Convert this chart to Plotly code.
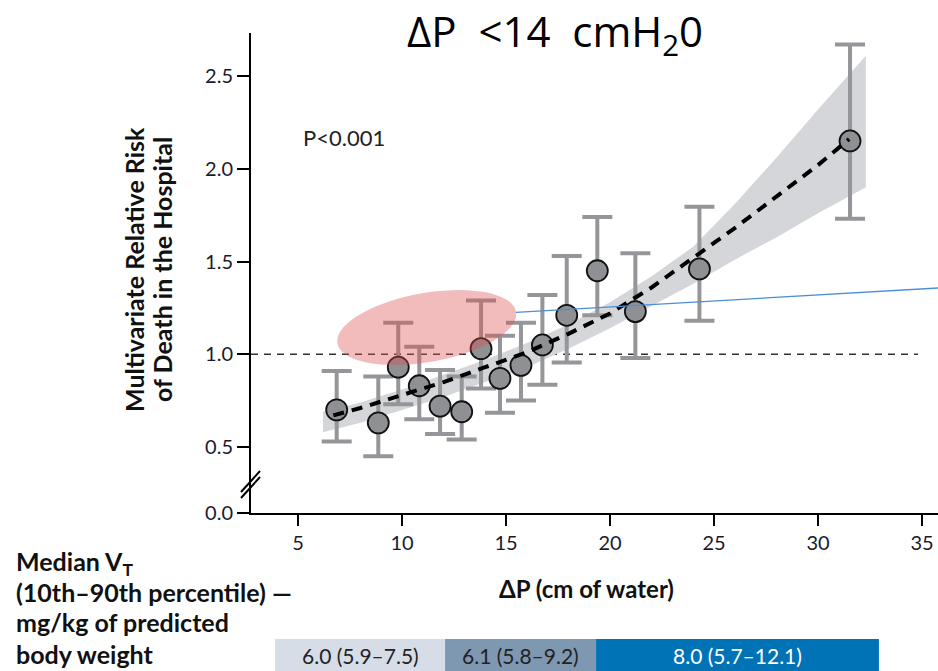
import math
import plotly.graph_objects as go

# ---------------- data ----------------
dp = [6.86, 8.86, 9.82, 10.83, 11.83, 12.87, 13.80, 14.71, 15.72, 16.75, 17.92, 19.39, 21.22, 24.30, 31.54]
rr = [0.70, 0.63, 0.93, 0.83, 0.72, 0.69, 1.03, 0.87, 0.94, 1.05, 1.21, 1.45, 1.23, 1.46, 2.15]
rr_hi = [0.91, 0.88, 1.17, 1.04, 0.915, 0.88, 1.29, 1.10, 1.17, 1.32, 1.53, 1.74, 1.545, 1.795, 2.67]
rr_lo = [0.53, 0.45, 0.73, 0.65, 0.57, 0.54, 0.815, 0.685, 0.75, 0.835, 0.955, 1.21, 0.98, 1.18, 1.73]

trend_x = [6.7, 8, 10, 12, 14, 16, 18, 20, 22, 24, 26, 28, 30, 31.5]
trend_y = [0.67, 0.71, 0.78, 0.85, 0.93, 1.01, 1.11, 1.22, 1.36, 1.52, 1.68, 1.85, 2.02, 2.16]

band_x = [6.2, 8, 10, 12, 14, 16, 18, 20, 22, 24, 26, 28, 30, 32.3]
band_lo = [0.58, 0.63, 0.70, 0.77, 0.85, 0.93, 1.03, 1.14, 1.26, 1.38, 1.51, 1.63, 1.76, 1.90]
band_hi = [0.69, 0.74, 0.81, 0.89, 0.97, 1.06, 1.16, 1.28, 1.42, 1.58, 1.81, 2.06, 2.32, 2.61]

blue_x = [15.48, 35.77]
blue_y = [1.226, 1.357]

ref_y = 1.0

x_ticks = [5, 10, 15, 20, 25, 30, 35]
y_tickvals = [0.144, 0.5, 1.0, 1.5, 2.0, 2.5]
y_ticktext = ["0.0", "0.5", "1.0", "1.5", "2.0", "2.5"]

vt_edges = [3.9, 12.07, 19.33, 32.93]
vt_labels = ["6.0 (5.9–7.5)", "6.1 (5.8–9.2)", "8.0 (5.7–12.1)"]
vt_colors = ["#d6dde6", "#7f98b2", "#0072b6"]
vt_text_colors = ["#222222", "#222222", "#ffffff"]

X_RANGE = [2.74, 35.77]
Y_RANGE = [0.144, 2.732]

# ---------------- layout geometry ----------------
W, H = 938, 671
ML, MR, MT, MB = 251, 0, 33, 158
PW = W - ML - MR
PH = H - MT - MB


def px_x(p):
    return (p - ML) / PW


def px_y(p):
    return (H - MB - p) / PH


def data_to_paper_x(v):
    return (v - X_RANGE[0]) / (X_RANGE[1] - X_RANGE[0])


fig = go.Figure()

# confidence band
fig.add_trace(go.Scatter(
    x=band_x + band_x[::-1], y=band_hi + band_lo[::-1],
    fill="toself", fillcolor="#d5d6d9", line=dict(width=0),
    mode="lines", hoverinfo="skip", showlegend=False))

# points with error bars
fig.add_trace(go.Scatter(
    x=dp, y=rr, mode="markers",
    error_y=dict(type="data", symmetric=False,
                 array=[h - v for h, v in zip(rr_hi, rr)],
                 arrayminus=[v - l for v, l in zip(rr, rr_lo)],
                 color="#949699", thickness=4, width=15),
    marker=dict(size=21, color="#8e9094", line=dict(color="#111111", width=1.8)),
    showlegend=False))

# trend line
fig.add_trace(go.Scatter(
    x=trend_x, y=trend_y, mode="lines",
    line=dict(color="#000000", width=4, dash="11px,8px"),
    showlegend=False))

# blue line
fig.add_trace(go.Scatter(
    x=blue_x, y=blue_y, mode="lines",
    line=dict(color="#4a8fd8", width=1.3), showlegend=False))

shapes = []
# reference dashed line at 1.0
shapes.append(dict(type="line", xref="paper", yref="y", x0=0, x1=px_x(918), y0=ref_y, y1=ref_y,
                   line=dict(color="#333333", width=1.5, dash="7px,6px"), layer="below"))

# ellipse (annotation highlight)
cx, cy = 11.19, 1.144
a_px, b_px, phi = 90.7, 34.5, math.radians(10)
sx = PW / (X_RANGE[1] - X_RANGE[0])
sy = PH / (Y_RANGE[1] - Y_RANGE[0])
pts = []
for i in range(73):
    t = 2 * math.pi * i / 72
    X = a_px * math.cos(t) * math.cos(phi) - b_px * math.sin(t) * math.sin(phi)
    Y = a_px * math.cos(t) * math.sin(phi) + b_px * math.sin(t) * math.cos(phi)
    pts.append((cx + X / sx, cy + Y / sy))
path = "M " + " L ".join(f"{x:.4f},{y:.4f}" for x, y in pts) + " Z"
shapes.append(dict(type="path", xref="x", yref="y", path=path,
                   fillcolor="rgba(220,80,80,0.38)", line=dict(width=0), layer="above"))

# axis-break marks
for off in (0, 6):
    shapes.append(dict(type="line", xref="paper", yref="paper",
                       x0=px_x(241), y0=px_y(495 + off - 3), x1=px_x(260), y1=px_y(474 + off - 3),
                       line=dict(color="#000000", width=2)))

# V_T bars
for i in range(3):
    shapes.append(dict(type="rect", xref="paper", yref="paper",
                       x0=data_to_paper_x(vt_edges[i]), x1=data_to_paper_x(vt_edges[i + 1]),
                       y0=px_y(671), y1=px_y(639),
                       fillcolor=vt_colors[i], line=dict(width=0)))

annotations = []
for i in range(3):
    annotations.append(dict(
        xref="paper", yref="paper",
        x=data_to_paper_x((vt_edges[i] + vt_edges[i + 1]) / 2), y=px_y(655),
        text=vt_labels[i], showarrow=False, xanchor="center", yanchor="middle",
        font=dict(family="Lato", size=21, color=vt_text_colors[i])))

# title
annotations.append(dict(xref="paper", yref="paper", x=px_x(555), y=px_y(0),
                        text="ΔP\u00a0\u00a0<14\u00a0\u00a0cmH<sub>2</sub>0", showarrow=False,
                        xanchor="center", yanchor="top",
                        font=dict(family="Open Sans", size=42, color="#000000")))
# P value
annotations.append(dict(xref="paper", yref="paper", x=px_x(344), y=px_y(137),
                        text="P<0.001", showarrow=False, xanchor="center", yanchor="middle",
                        font=dict(family="Lato", size=22, color="#222222")))
# y title (two lines)
for txt, xx in (("Multivariate Relative Risk", 134), ("of Death in the Hospital", 162)):
    annotations.append(dict(xref="paper", yref="paper", x=px_x(xx), y=px_y(270),
                            text=f"<b>{txt}</b>",
                            showarrow=False, textangle=-90, xanchor="center", yanchor="middle",
                            font=dict(family="Lato", size=25, color="#111111")))
# x title
annotations.append(dict(xref="paper", yref="paper", x=px_x(586), y=px_y(588),
                        text="<b>ΔP (cm of water)</b>", showarrow=False,
                        xanchor="center", yanchor="middle",
                        font=dict(family="Lato", size=24, color="#111111")))
# left label block
left_lines = ["Median V<sub>T</sub>", "(10th–90th percentile) —", "mg/kg of predicted", "body weight"]
left_y = [563, 592, 622, 654]
for txt, yy in zip(left_lines, left_y):
    annotations.append(dict(xref="paper", yref="paper", x=px_x(14), y=px_y(yy),
                            text=f"<b>{txt}</b>", showarrow=False,
                            xanchor="left", yanchor="middle",
                            font=dict(family="Lato", size=25, color="#111111")))

fig.update_layout(
    width=W, height=H,
    margin=dict(l=ML, r=MR, t=MT, b=MB, pad=0),
    paper_bgcolor="white", plot_bgcolor="white",
    shapes=shapes, annotations=annotations,
    xaxis=dict(range=X_RANGE, tickvals=x_ticks, showgrid=False, zeroline=False,
               showline=True, linecolor="#000000", linewidth=2,
               ticks="outside", ticklen=11, tickwidth=2, tickcolor="#000000",
               tickfont=dict(family="Lato", size=20, color="#1a1a2e")),
    yaxis=dict(range=Y_RANGE, tickvals=y_tickvals, ticktext=y_ticktext,
               showgrid=False, zeroline=False,
               showline=True, linecolor="#000000", linewidth=2,
               ticks="outside", ticklen=12, tickwidth=2, tickcolor="#000000",
               tickfont=dict(family="Lato", size=20, color="#1a1a2e")),
)

fig.write_html("out.html")
